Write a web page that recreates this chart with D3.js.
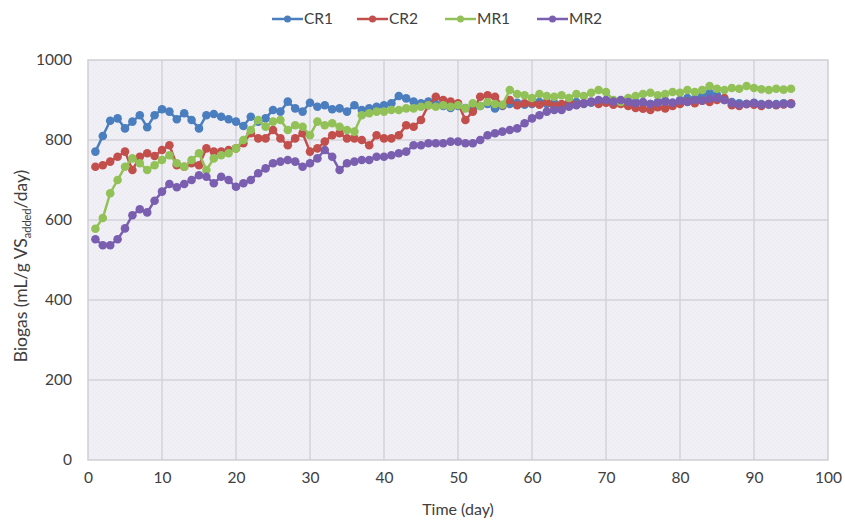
<!DOCTYPE html>
<html>
<head>
<meta charset="utf-8">
<script src="https://cdn.jsdelivr.net/npm/d3@7"></script>
<style>
  body { margin: 0; background: #fff; }
  text { font-family: Lato, "Open Sans", sans-serif; }
</style>
</head>
<body>
<div id="chart"></div>
<script>
// days 1..95
const days = d3.range(1, 96);

const cr1 = [771, 810, 848, 854, 829, 846, 862, 832, 862, 877, 871, 852, 867, 850, 829, 862, 865, 858, 852, 846,
  835, 858, 846, 854, 875, 871, 896, 879, 871, 893, 883, 887, 877, 879, 871, 887, 875, 879, 883, 887,
  892, 910, 904, 896, 892, 896, 890, 885, 880, 885, 880, 875, 885, 890, 879, 885, 890, 893, 888, 890,
  895, 890, 893, 888, 892, 895, 890, 893, 897, 895, 890, 893, 890, 895, 892, 890, 895, 898, 893, 900,
  905, 903, 910, 918, 912, 900, 895, 892, 890, 893, 890, 888, 890, 892, 890];

const cr2 = [733, 737, 746, 758, 771, 725, 758, 767, 760, 775, 787, 737, 733, 742, 737, 779, 771, 771, 775, 779,
  792, 817, 804, 804, 825, 804, 787, 804, 817, 771, 779, 796, 812, 817, 804, 804, 800, 787, 812, 804,
  804, 812, 837, 833, 850, 887, 908, 900, 896, 892, 850, 871, 908, 912, 908, 887, 900, 887, 892, 892,
  888, 895, 885, 890, 893, 888, 892, 895, 890, 893, 888, 890, 885, 880, 878, 875, 882, 879, 885, 890,
  896, 892, 898, 895, 900, 905, 887, 885, 890, 888, 885, 890, 887, 889, 892];

const mr1 = [578, 605, 667, 700, 733, 754, 742, 725, 737, 750, 762, 742, 733, 750, 767, 725, 754, 762, 767, 779,
  800, 825, 850, 833, 846, 850, 825, 837, 833, 812, 846, 837, 842, 833, 825, 821, 862, 867, 871, 871,
  875, 875, 879, 879, 883, 887, 883, 887, 883, 887, 879, 892, 885, 895, 890, 888, 925, 915, 912, 905,
  915, 910, 908, 912, 905, 915, 910, 918, 925, 920, 900, 895, 905, 910, 915, 918, 912, 915, 920, 918,
  925, 920, 925, 935, 928, 925, 930, 928, 935, 930, 927, 925, 928, 926, 928];

const mr2 = [552, 537, 537, 552, 579, 612, 627, 619, 648, 671, 690, 682, 690, 700, 712, 708, 692, 708, 700, 683,
  692, 700, 717, 729, 742, 746, 750, 746, 733, 742, 754, 775, 758, 725, 742, 746, 750, 750, 758, 758,
  762, 767, 771, 787, 787, 792, 792, 792, 796, 796, 792, 792, 800, 812, 817, 821, 825, 829, 842, 854,
  862, 871, 875, 875, 883, 887, 892, 896, 900, 900, 896, 900, 895, 892, 895, 890, 893, 896, 893, 898,
  895, 900, 898, 903, 905, 900, 892, 888, 890, 892, 888, 890, 888, 890, 890];

const seriesNames = ["CR1", "CR2", "MR1", "MR2"];
const seriesValues = [cr1, cr2, mr1, mr2];
const colors = ["#4a7ebf", "#c24f4b", "#92c257", "#7a5fb0"];

const xTicks = d3.range(0, 101, 10);
const yTicks = d3.range(0, 1001, 200);

const W = 845, H = 521;
const margin = { left: 88, right: 17, top: 60, bottom: 61 };

const svg = d3.select("#chart").append("svg")
    .attr("width", W)
    .attr("height", H);

const x = d3.scaleLinear().domain([0, 100]).range([margin.left, W - margin.right]);
const y = d3.scaleLinear().domain([0, 1000]).range([H - margin.bottom, margin.top]);

// hatched plot background
const defs = svg.append("defs");
const pat = defs.append("pattern")
    .attr("id", "hatch")
    .attr("patternUnits", "userSpaceOnUse")
    .attr("width", 4).attr("height", 4);
pat.append("rect").attr("width", 4).attr("height", 4).attr("fill", "#eeedf3");
pat.append("path").attr("d", "M0,4 L4,0").attr("stroke", "#f3f2f6").attr("stroke-width", 1);

svg.append("rect")
    .attr("x", x(0)).attr("y", y(1000))
    .attr("width", x(100) - x(0)).attr("height", y(0) - y(1000))
    .attr("fill", "url(#hatch)");

// grid
svg.append("g").selectAll("line").data(xTicks.slice(1, -1)).join("line")
    .attr("x1", d => x(d)).attr("x2", d => x(d))
    .attr("y1", y(0)).attr("y2", y(1000))
    .attr("stroke", "#d3d2d9").attr("stroke-width", 1.5);
svg.append("g").selectAll("line").data(yTicks.slice(1, -1)).join("line")
    .attr("x1", x(0)).attr("x2", x(100))
    .attr("y1", d => y(d)).attr("y2", d => y(d))
    .attr("stroke", "#d3d2d9").attr("stroke-width", 1.5);

svg.append("rect")
    .attr("x", x(0)).attr("y", y(1000))
    .attr("width", x(100) - x(0)).attr("height", y(0) - y(1000))
    .attr("fill", "none").attr("stroke", "#cfced5").attr("stroke-width", 1.5);

// axes
const xAxis = svg.append("g")
    .attr("transform", `translate(0,${y(0)})`)
    .call(d3.axisBottom(x).tickValues(xTicks).tickSize(0).tickPadding(12));
const yAxis = svg.append("g")
    .attr("transform", `translate(${x(0)},0)`)
    .call(d3.axisLeft(y).tickValues(yTicks).tickFormat(d3.format("d")).tickSize(0).tickPadding(16));
[xAxis, yAxis].forEach(a => {
    a.select(".domain").remove();
    a.selectAll("text").attr("font-size", 15.5).attr("fill", "#404040")
        .attr("font-family", "Lato, 'Open Sans', sans-serif");
});

// axis titles
svg.append("text")
    .attr("x", (x(0) + x(100)) / 2).attr("y", 515)
    .attr("text-anchor", "middle")
    .attr("font-size", 16).attr("fill", "#404040")
    .text("Time (day)");

const yt = svg.append("text")
    .attr("transform", `translate(27,266) rotate(-90)`)
    .attr("text-anchor", "middle")
    .attr("font-size", 17.5).attr("fill", "#404040");
yt.append("tspan").text("Biogas (mL/g VS");
yt.append("tspan").attr("font-size", 11).attr("dy", 4).text("added");
yt.append("tspan").attr("dy", -4).text("/day)");

// series
const line = d3.line().x((d, i) => x(days[i])).y(d => y(d));
seriesValues.forEach((vals, k) => {
    const g = svg.append("g");
    g.append("path")
        .datum(vals)
        .attr("fill", "none")
        .attr("stroke", colors[k])
        .attr("stroke-width", 2.5)
        .attr("d", line);
    g.selectAll("circle").data(vals).join("circle")
        .attr("cx", (d, i) => x(days[i]))
        .attr("cy", d => y(d))
        .attr("r", 4.3)
        .attr("fill", colors[k]);
});

// legend
const legendX = [272, 357, 445, 537];
const legend = svg.append("g");
seriesNames.forEach((name, k) => {
    const g = legend.append("g").attr("transform", `translate(${legendX[k]},19)`);
    g.append("line").attr("x1", 0).attr("x2", 31).attr("stroke", colors[k]).attr("stroke-width", 2.5);
    g.append("circle").attr("cx", 15.5).attr("r", 3.5).attr("fill", colors[k]);
    g.append("text").attr("x", 32).attr("dy", "0.35em")
        .attr("font-size", 15.5).attr("fill", "#404040").text(name);
});
</script>
</body>
</html>
